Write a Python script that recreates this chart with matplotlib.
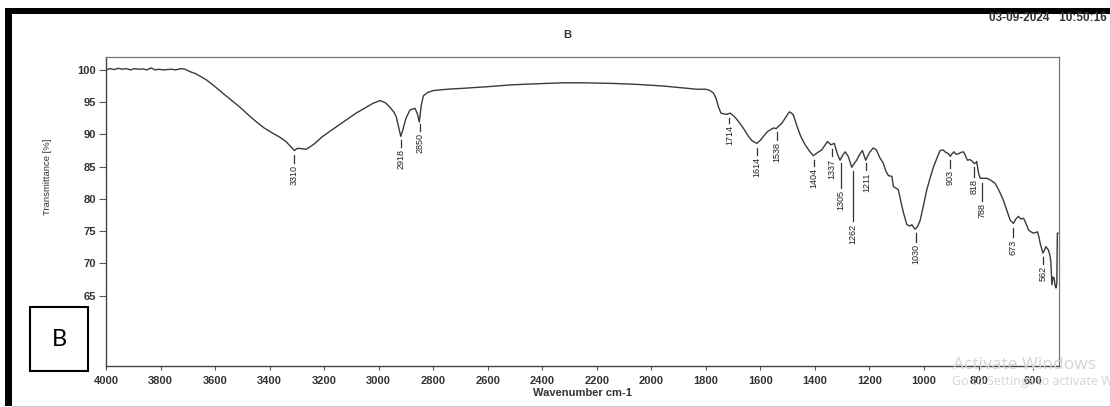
import matplotlib.pyplot as plt
from matplotlib.patches import Rectangle
import numpy as np

# FTIR spectrum (wavenumber cm-1, transmittance %)
wavenumber = [
    4000, 3985, 3970, 3955, 3940, 3925, 3910, 3895, 3880, 3865, 3850, 3835,
    3820, 3805, 3790, 3775, 3760, 3745, 3725, 3710, 3690, 3670, 3650, 3630,
    3600, 3572, 3540, 3511, 3480, 3450, 3420, 3389, 3360, 3340, 3320, 3309,
    3298, 3285, 3266, 3240, 3205, 3175, 3144, 3110, 3083, 3050, 3022, 2995,
    2975, 2961, 2945, 2936, 2925, 2919, 2912, 2900, 2885, 2867, 2858, 2851,
    2844, 2836, 2820, 2799, 2750, 2689, 2600, 2506, 2420, 2323, 2250, 2139,
    2050, 1956, 1880, 1833, 1800, 1785, 1772, 1762, 1754, 1745, 1736, 1724,
    1711, 1699, 1688, 1675, 1660, 1644, 1630, 1613, 1600, 1589, 1575, 1564,
    1552, 1542, 1530, 1522, 1508, 1494, 1486, 1479, 1470, 1461, 1450, 1436,
    1420, 1406, 1390, 1375, 1354, 1342, 1329, 1318, 1308, 1298, 1289, 1278,
    1265, 1256, 1247, 1236, 1226, 1214, 1200, 1186, 1175, 1161, 1150, 1140,
    1130, 1118, 1112, 1100, 1094, 1085, 1075, 1063, 1052, 1045, 1033, 1024,
    1014, 1002, 990, 978, 965, 952, 941, 930, 923, 910, 904, 897,
    890, 882, 874, 865, 855, 848, 841, 832, 825, 816, 810, 807,
    800, 794, 782, 770, 755, 739, 725, 709, 697, 684, 672, 663,
    654, 645, 635, 626, 617, 608, 599, 590, 584, 578, 574, 568,
    564, 558, 553, 548, 544, 538, 535, 531, 527, 523, 519, 516,
    513, 511, 509,
]
transmittance = [
    100.0, 100.2, 100.05, 100.25, 100.1, 100.2, 100.0, 100.2, 100.1, 100.15, 100.0, 100.3,
    100.0, 100.1, 100.0, 100.05, 100.1, 100.0, 100.2, 100.1, 99.7, 99.4, 98.9, 98.4,
    97.4, 96.4, 95.3, 94.3, 93.1, 92.0, 91.0, 90.2, 89.5, 88.9, 88.0, 87.5,
    87.85, 87.8, 87.7, 88.4, 89.7, 90.6, 91.5, 92.5, 93.3, 94.1, 94.8, 95.25,
    94.9, 94.3, 93.5, 92.8, 90.8, 89.7, 90.6, 92.5, 93.8, 94.05, 93.2, 91.9,
    94.5, 96.0, 96.5, 96.8, 97.0, 97.15, 97.4, 97.7, 97.85, 98.0, 98.0, 97.9,
    97.75, 97.5, 97.2, 97.0, 97.0, 96.8, 96.4, 95.5, 94.3, 93.3, 93.2, 93.1,
    93.3, 92.9, 92.4, 91.7, 90.8, 89.7, 89.0, 88.6, 89.1, 89.7, 90.4, 90.7,
    91.0, 90.9, 91.4, 91.7, 92.6, 93.5, 93.3, 93.0, 91.8, 90.7, 89.5, 88.4,
    87.4, 86.7, 87.2, 87.6, 88.9, 88.4, 88.6, 87.0, 86.0, 86.8, 87.3, 86.6,
    84.9, 85.5, 86.0, 86.9, 87.5, 86.0, 87.2, 87.9, 87.6, 86.3, 85.6, 84.3,
    83.6, 83.5, 81.9, 81.6, 81.4, 79.6, 77.8, 76.0, 75.8, 76.0, 75.3, 75.7,
    76.7, 79.0, 81.4, 83.2, 85.0, 86.4, 87.5, 87.6, 87.3, 87.0, 86.6, 87.0,
    87.3, 86.9, 87.0, 87.2, 87.3, 86.7, 86.0, 86.1, 85.9, 85.5, 85.6, 85.8,
    84.0, 83.2, 83.2, 83.2, 82.9, 82.4, 81.3, 79.8, 78.3, 76.7, 76.2, 76.9,
    77.3, 76.9, 77.0, 76.2, 75.2, 74.9, 74.7, 74.8, 74.9, 74.0, 73.1, 72.2,
    71.6, 72.1, 72.6, 72.3, 72.1, 71.2, 70.3, 66.7, 67.9, 67.7, 66.5, 66.2,
    67.0, 74.7, 74.7,
]

# labelled peaks
peaks = [3310, 2918, 2850, 1714, 1614, 1538, 1404, 1337, 1305, 1262,
         1211, 1030, 903, 818, 788, 673, 562]
peak_labels = [str(p) for p in peaks]
# marker line lengths (in % units) - most are short, a few are long
tick_len = [1.2, 1.1, 1.1, 0.8, 1.1, 1.2, 0.9, 1.2, 3.9, 7.9,
            1.1, 1.4, 1.2, 1.5, 2.8, 1.5, 1.1]

x_ticks = list(range(4000, 599, -200))
y_ticks = [65, 70, 75, 80, 85, 90, 95, 100]

W, H = 1110, 407
fig = plt.figure(figsize=(W / 100, H / 100), dpi=100)
fig.patch.set_facecolor("white")

ax = fig.add_axes([106 / W, 1 - 366 / H, (1059 - 106) / W, (366 - 57) / H])
ax.plot(wavenumber, transmittance, color="#3a3a3a", lw=1.0)

ax.set_xlim(4000, 505)
ax.set_ylim(54.1, 102.0)
ax.set_xticks(x_ticks)
ax.set_yticks(y_ticks)

tick_font = {"family": "Liberation Sans", "weight": "bold", "size": 8}
ax.set_xticklabels([str(t) for t in x_ticks], fontdict=tick_font, color="#333333")
ax.set_yticklabels([str(t) for t in y_ticks], fontdict=tick_font, color="#333333")
ax.tick_params(axis="x", direction="out", length=3, width=0.8, color="#555555", pad=4)
ax.tick_params(axis="y", direction="out", length=5, width=0.8, color="#555555", pad=2)
for side in ["left", "bottom"]:
    ax.spines[side].set_color("#444444")
    ax.spines[side].set_linewidth(1.0)
for side in ["top", "right"]:
    ax.spines[side].set_color("#777777")
    ax.spines[side].set_linewidth(0.9)

ax.set_xlabel("Wavenumber cm-1", fontdict=tick_font, color="#333333", labelpad=2)

# peak markers: short line under the band, number below it, rotated
wn_arr = np.array(wavenumber)[::-1]
tr_arr = np.array(transmittance)[::-1]
for p, lab, ln in zip(peaks, peak_labels, tick_len):
    y_top = np.interp(p, wn_arr, tr_arr) - 0.7
    y_bot = y_top - ln
    ax.plot([p, p], [y_top, y_bot], color="#333333", lw=0.9)
    ax.annotate(lab, (p, y_bot), xytext=(0, -1.5), textcoords="offset points",
                rotation=90, ha="center", va="top", fontsize=6.5,
                family="Liberation Sans", color="#222222")

# figure-level text
fig.text(47 / W, 1 - 177 / H, "Transmittance [%]", rotation=90, ha="center", va="center",
         fontsize=6.8, family="Liberation Sans", color="#333333")
fig.text(567 / W, 1 - 35 / H, "B", ha="center", va="center",
         fontdict=tick_font, color="#333333")
fig.text(1107 / W, 1 - 18 / H, "03-09-2024   10:50:16", ha="right", va="center",
         family="Liberation Sans", weight="bold", size=8.5, color="#333333")

# screenshot frame
fig.patches.append(Rectangle((5 / W, 1 - 14 / H), 1 - 5 / W, 6 / H,
                             transform=fig.transFigure, color="black", lw=0))
fig.patches.append(Rectangle((5 / W, 1 - 406 / H), 7 / W, 398 / H,
                             transform=fig.transFigure, color="black", lw=0))
fig.patches.append(Rectangle((12 / W, 1 - 407 / H), 1, 1.2 / H,
                             transform=fig.transFigure, color="#c8c8c8", lw=0))

# boxed panel letter
fig.patches.append(Rectangle((30 / W, 1 - 371 / H), 58 / W, 64 / H,
                             transform=fig.transFigure, facecolor="white",
                             edgecolor="black", lw=1.5))
fig.text(59 / W, 1 - 339 / H, "B", ha="center", va="center", fontsize=17,
         family="Lato", color="black")

# windows watermark
fig.text(953 / W, 1 - 365 / H, "Activate Windows", ha="left", va="center",
         fontsize=12.5, family="Open Sans", color="#d4d4d4")
fig.text(952 / W, 1 - 381 / H, "Go to Settings to activate Windows.", ha="left",
         va="center", fontsize=9, family="Open Sans", color="#d4d4d4")

fig.savefig("out.png", dpi=100)
